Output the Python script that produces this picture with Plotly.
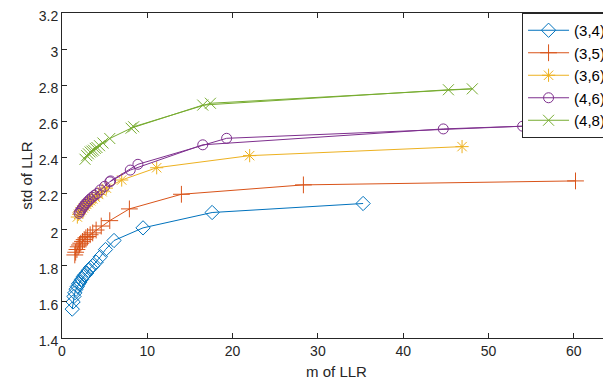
import plotly.graph_objects as go

# ---- data ----
x_34 = [1.2, 1.3, 1.4, 1.5, 1.65, 1.8, 1.95, 2.1, 2.3, 2.5, 2.7, 2.9, 3.1, 3.35, 3.6, 4.0, 4.5, 5.1, 6.1, 9.5, 17.6, 35.3]
y_34 = [1.56, 1.60, 1.63, 1.65, 1.67, 1.685, 1.70, 1.71, 1.725, 1.74, 1.75, 1.76, 1.775, 1.79, 1.80, 1.82, 1.85, 1.89, 1.94, 2.01, 2.095, 2.145]

x_35 = [1.5, 1.6, 1.75, 1.9, 2.05, 2.2, 2.4, 2.6, 2.8, 3.0, 3.3, 3.6, 4.0, 4.6, 5.6, 7.9, 14.0, 28.3, 60.2]
y_35 = [1.86, 1.875, 1.89, 1.905, 1.915, 1.925, 1.935, 1.945, 1.955, 1.962, 1.972, 1.982, 1.998, 2.02, 2.05, 2.115, 2.196, 2.248, 2.27]

x_36 = [1.8, 1.95, 2.1, 2.3, 2.5, 2.7, 2.9, 3.1, 3.35, 3.6, 3.9, 4.3, 4.7, 5.2, 7.0, 11.1, 22.0, 46.9]
y_36 = [2.07, 2.085, 2.10, 2.11, 2.12, 2.13, 2.14, 2.15, 2.16, 2.17, 2.18, 2.195, 2.21, 2.23, 2.275, 2.343, 2.41, 2.46]

x_46 = [2.0, 2.1, 2.25, 2.4, 2.55, 2.7, 2.9, 3.1, 3.3, 3.55, 3.8, 4.1, 4.5, 5.0, 5.6, 8.0, 16.5, 44.7, 54.0, 19.3, 8.9, 5.7]
y_46 = [2.09, 2.10, 2.11, 2.12, 2.13, 2.14, 2.15, 2.16, 2.17, 2.18, 2.19, 2.20, 2.22, 2.24, 2.265, 2.33, 2.47, 2.558, 2.573, 2.506, 2.362, 2.27]

x_48 = [2.7, 2.9, 3.1, 3.3, 3.5, 3.7, 3.9, 4.1, 4.4, 4.8, 5.6, 8.1, 16.5, 45.3, 48.1, 17.4, 8.4]
y_48 = [2.39, 2.41, 2.42, 2.43, 2.435, 2.44, 2.45, 2.455, 2.465, 2.48, 2.505, 2.562, 2.69, 2.775, 2.78, 2.70, 2.57]

names = ["(3,4)", "(3,5)", "(3,6)", "(4,6)", "(4,8)"]
xs = [x_34, x_35, x_36, x_46, x_48]
ys = [y_34, y_35, y_36, y_46, y_48]
colors = ["#0072BD", "#D95319", "#EDB120", "#7E2F8E", "#77AC30"]
symbols = ["diamond-open", "cross-thin-open", "asterisk-open", "circle-open", "x-thin-open"]
sizes = [11, 12, 11, 10, 11]

y_ticks = [1.4, 1.6, 1.8, 2.0, 2.2, 2.4, 2.6, 2.8, 3.0, 3.2]
y_tick_text = ["1.4", "1.6", "1.8", "2", "2.2", "2.4", "2.6", "2.8", "3", "3.2"]
x_ticks = [0, 10, 20, 30, 40, 50, 60]

fig = go.Figure()
for n, x, y, c, s, sz in zip(names, xs, ys, colors, symbols, sizes):
    fig.add_trace(go.Scatter(
        x=x, y=y, name=n, mode="lines+markers",
        line=dict(color=c, width=1),
        marker=dict(symbol=s, size=sz, color=c, line=dict(color=c, width=1)),
    ))

axis_common = dict(
    showline=True, linecolor="#262626", linewidth=1, mirror="ticks",
    ticks="inside", ticklen=5, tickcolor="#262626", showgrid=False, zeroline=False,
    ticklabeloverflow="allow",
    tickfont=dict(family="Liberation Sans, Arial", size=14, color="#262626"),
)

# page body has an 8px margin, so the figure is 8px smaller than the window
fig.update_layout(
    width=603, height=378,
    margin=dict(l=54, r=0, t=5, b=48, autoexpand=False),
    paper_bgcolor="white", plot_bgcolor="white",
    font=dict(family="Liberation Sans, Arial", size=14, color="#262626"),
    xaxis=dict(range=[0, 64.36], tickvals=x_ticks,
               title=dict(text="m of LLR", font=dict(size=15), standoff=8), **axis_common),
    yaxis=dict(range=[1.4, 3.2], tickvals=y_ticks, ticktext=y_tick_text, ticklabelshift=3,
               title=dict(text="std of LLR", font=dict(size=15), standoff=2), **axis_common),
    legend=dict(x=0.838, y=1.0, xanchor="left", yanchor="top",
                bgcolor="white", bordercolor="#262626", borderwidth=1,
                font=dict(family="Liberation Sans, Arial", size=15, color="black"),
                tracegroupgap=0, itemwidth=41),
    showlegend=True,
)

fig.write_html("out.html")
